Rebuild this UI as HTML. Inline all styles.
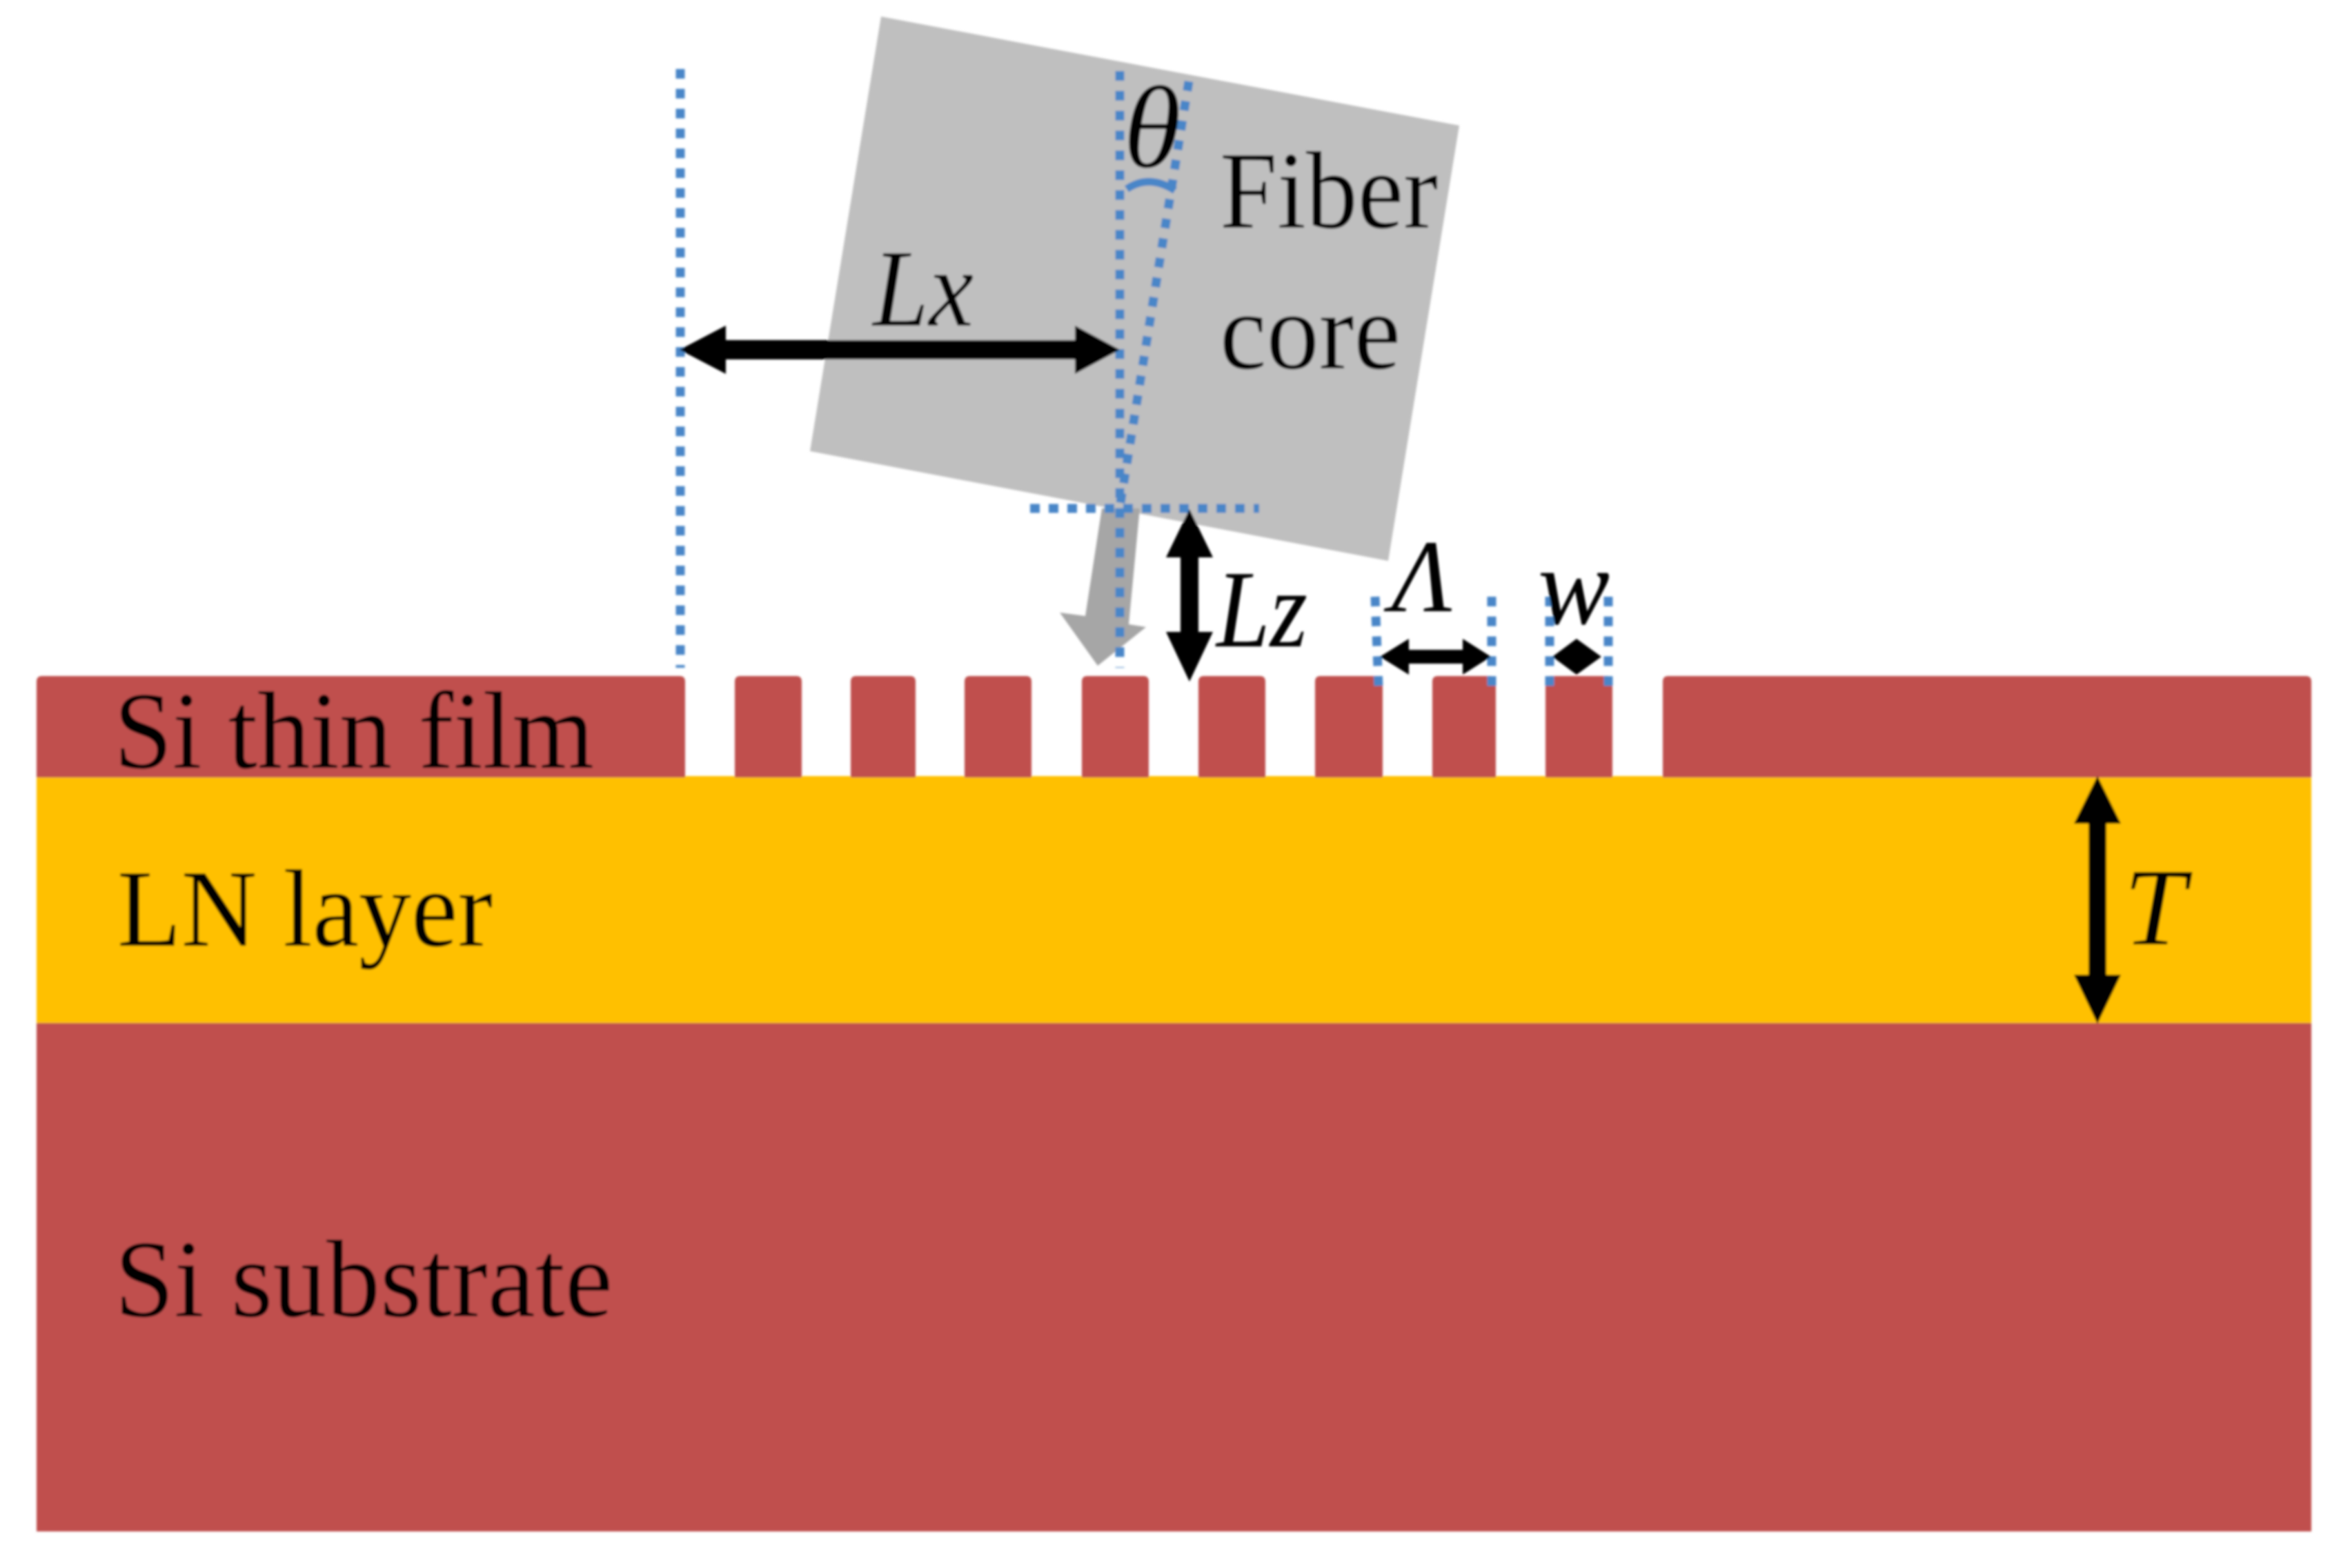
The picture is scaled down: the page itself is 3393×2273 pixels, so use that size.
<!DOCTYPE html>
<html>
<head>
<meta charset="utf-8">
<style>
html,body{margin:0;padding:0;background:#fff;width:3393px;height:2273px;overflow:hidden}
svg{display:block;position:absolute;left:0;top:0}
text{font-family:"Liberation Serif",serif;fill:#000}
.i{font-style:italic}
</style>
</head>
<body>
<svg width="3393" height="2273" viewBox="0 0 3393 2273" xmlns="http://www.w3.org/2000/svg">
<defs><filter id="b" x="-2%" y="-2%" width="104%" height="104%"><feGaussianBlur stdDeviation="1.6"/></filter></defs>
<g filter="url(#b)">
<!-- Si substrate and LN -->
<rect x="53" y="1483" width="3297" height="737" fill="#c0504d"/>
<rect x="53" y="1125" width="3297" height="358" fill="#ffc000"/>
<!-- Si film -->
<g fill="#c0504d">
<path d="M53 1127V988q0-8 8-8H985q8 0 8 8V1127Z"/>
<path d="M1065 1127V988q0-8 8-8H1154q8 0 8 8V1127Z"/>
<path d="M1233 1127V988q0-8 8-8H1319q8 0 8 8V1127Z"/>
<path d="M1398 1127V988q0-8 8-8H1487q8 0 8 8V1127Z"/>
<path d="M1568 1127V988q0-8 8-8H1657q8 0 8 8V1127Z"/>
<path d="M1737 1127V988q0-8 8-8H1826q8 0 8 8V1127Z"/>
<path d="M1906 1127V988q0-8 8-8H1996q8 0 8 8V1127Z"/>
<path d="M2076 1127V988q0-8 8-8H2160q8 0 8 8V1127Z"/>
<path d="M2240 1127V988q0-8 8-8H2329q8 0 8 8V1127Z"/>
<path d="M2410 1127V988q0-8 8-8H3342q8 0 8 8V1127Z"/>
</g>
<!-- Fiber -->
<polygon points="1277,24 2115,182 2012,813 1174,654" fill="#bfbfbf"/>
<!-- Gray arrow -->
<polygon points="1597,737 1652,737 1636,905 1661,909 1591,965 1536,888 1573,893" fill="#a6a6a6"/>
<!-- Dotted lines -->
<g fill="none" stroke="#4a86c8" stroke-width="13" stroke-dasharray="14 14.8">
<line x1="986" y1="100" x2="986" y2="968"/>
<line x1="1623" y1="103" x2="1623" y2="968"/>
<line x1="1723" y1="118" x2="1623" y2="735"/>
<line x1="1493" y1="737" x2="1825" y2="737" stroke-dasharray="14 13"/>
<line x1="1993" y1="865" x2="1998" y2="995"/>
<line x1="2162" y1="865" x2="2162" y2="995"/>
<line x1="2246" y1="865" x2="2246" y2="995"/>
<line x1="2331" y1="865" x2="2331" y2="995"/>
</g>
<path d="M1633 274Q1665 252 1703 276" fill="none" stroke="#4a86c8" stroke-width="11"/>
<!-- Black arrows -->
<g fill="#000">
<polygon points="985,507 1052,472 1052,493 1558,493 1558,472 1623,507 1558,542 1558,521 1052,521 1052,542"/>
<polygon points="1724,738 1758,808 1737,808 1737,916 1758,916 1724,988 1690,916 1711,916 1711,808 1690,808"/>
<polygon points="3040,1125 3074,1194 3053,1194 3053,1413 3074,1413 3040,1484 3006,1413 3027,1413 3027,1194 3006,1194"/>
<polygon points="2000,952 2042,926 2042,942 2120,942 2120,926 2161,952 2120,978 2120,962 2042,962 2042,978"/>
<polygon points="2250,952 2285,926 2321,952 2285,978"/>
</g>
<!-- Labels -->
<text x="165" y="1113" font-size="160" textLength="696" lengthAdjust="spacingAndGlyphs">Si thin film</text>
<text x="170" y="1371" font-size="160" textLength="544" lengthAdjust="spacingAndGlyphs">LN layer</text>
<text x="166" y="1908" font-size="160" textLength="722" lengthAdjust="spacingAndGlyphs">Si substrate</text>
<text x="1768" y="330" font-size="160" textLength="316" lengthAdjust="spacingAndGlyphs">Fiber</text>
<text x="1768" y="534" font-size="160" textLength="262" lengthAdjust="spacingAndGlyphs">core</text>
<text class="i" x="1265" y="472" font-size="160" textLength="146" lengthAdjust="spacingAndGlyphs">Lx</text>
<text class="i" x="1763" y="937" font-size="160" textLength="132" lengthAdjust="spacingAndGlyphs">Lz</text>
<text class="i" x="1628" y="242" font-size="170" textLength="84" lengthAdjust="spacingAndGlyphs">θ</text>
<text class="i" x="2017" y="886" font-size="150" textLength="88" lengthAdjust="spacingAndGlyphs">Λ</text>
<text class="i" x="2229" y="904" font-size="160" textLength="104" lengthAdjust="spacingAndGlyphs">w</text>
<text class="i" x="3078" y="1369" font-size="160" textLength="90" lengthAdjust="spacingAndGlyphs">T</text>
</g>
</svg>
</body>
</html>
